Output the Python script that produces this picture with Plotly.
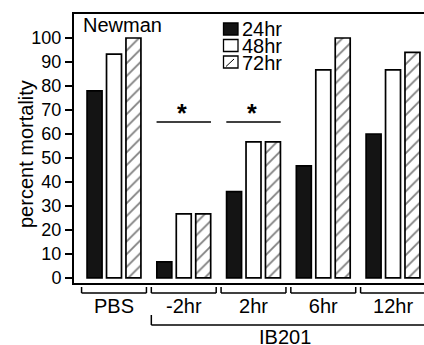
import plotly.graph_objects as go

# ---------------- data ----------------
CATEGORIES = ["PBS", "-2hr", "2hr", "6hr", "12hr"]
SERIES_NAMES = ["24hr", "48hr", "72hr"]
V_24HR = [78, 6.7, 36, 46.7, 60]
V_48HR = [93.3, 26.7, 56.7, 86.7, 86.7]
V_72HR = [100, 26.7, 56.7, 100, 94]
Y_TICKS = list(range(0, 101, 10))
Y_TITLE = "percent mortality"
SIG_GROUPS = ["-2hr", "2hr"]
SIG_Y = 65
GROUP_LABEL = "IB201"
GROUP_MEMBERS = ["-2hr", "2hr", "6hr", "12hr"]
PANEL_TITLE = "Newman"

# ---------------- layout constants ----------------
W, H = 424, 345
PL, PR, PT, PB = 74, 424, 14, 283
XMIN, XMAX = -0.5735, 4.444
YMIN, YMAX = -2.1, 110
FONT = "Liberation Sans, Arial, sans-serif"


def cat_to_paper(c):
    return (c - XMIN) / (XMAX - XMIN)


def px_x(px):
    return (px - PL) / (PR - PL)


def px_y(py):
    return (PB - py) / (PB - PT)


fig = go.Figure()
fig.add_bar(x=CATEGORIES, y=V_24HR, name=SERIES_NAMES[0],
            marker=dict(color="#141414", line=dict(color="black", width=1.7)),
            showlegend=False)
fig.add_bar(x=CATEGORIES, y=V_48HR, name=SERIES_NAMES[1],
            marker=dict(color="white", line=dict(color="black", width=1.7)),
            showlegend=False)
fig.add_bar(x=CATEGORIES, y=V_72HR, name=SERIES_NAMES[2],
            marker=dict(color="white", line=dict(color="black", width=1.7),
                        pattern=dict(shape="/", fgcolor="black", bgcolor="white",
                                     size=9, solidity=0.2)),
            showlegend=False)

shapes = []
annotations = []

# significance lines and stars
for g in SIG_GROUPS:
    i = CATEGORIES.index(g)
    shapes.append(dict(type="line", xref="x", yref="y", x0=i - 0.39, x1=i + 0.39,
                       y0=SIG_Y, y1=SIG_Y, line=dict(color="black", width=1.5)))
    annotations.append(dict(xref="x", yref="y", x=i - 0.02, y=SIG_Y, text="<b>*</b>",
                            showarrow=False, yanchor="bottom", yshift=-7,
                            font=dict(size=25, color="black", family=FONT)))

# brackets under each category
yb_h = px_y(293)
yb_e = px_y(287)
for i, c in enumerate(CATEGORIES):
    x0 = cat_to_paper(i - 0.465)
    x1 = cat_to_paper(i + 0.465)
    for seg in [(x0, yb_e, x0, yb_h), (x0, yb_h, x1, yb_h), (x1, yb_h, x1, yb_e)]:
        shapes.append(dict(type="line", xref="paper", yref="paper",
                           x0=seg[0], y0=seg[1], x1=seg[2], y1=seg[3],
                           line=dict(color="black", width=1.5)))

# IB201 group bracket
gi0 = CATEGORIES.index(GROUP_MEMBERS[0])
gx0 = cat_to_paper(gi0 - 0.465)
gy = px_y(325)
gy_top = px_y(315)
shapes.append(dict(type="line", xref="paper", yref="paper", x0=gx0, x1=1.05,
                   y0=gy, y1=gy, line=dict(color="black", width=1.5)))
shapes.append(dict(type="line", xref="paper", yref="paper", x0=gx0, x1=gx0,
                   y0=gy, y1=gy_top, line=dict(color="black", width=1.5)))
annotations.append(dict(xref="paper", yref="paper", x=cat_to_paper(2.45), y=px_y(337),
                        text=GROUP_LABEL, showarrow=False, xanchor="center", yanchor="middle",
                        font=dict(size=20, color="black", family=FONT)))

# panel title
annotations.append(dict(xref="paper", yref="paper", x=px_x(80.5), y=px_y(25),
                        text=PANEL_TITLE, showarrow=False, xanchor="left", yanchor="middle",
                        font=dict(size=20, color="black", family=FONT)))

# y-axis title (placed to match reference spacing)
annotations.append(dict(xref="paper", yref="paper", x=px_x(26), y=px_y(154),
                        text=Y_TITLE, textangle=-90, showarrow=False,
                        xanchor="center", yanchor="middle",
                        font=dict(size=20, color="black", family=FONT)))

# manual legend
row_centers = [29, 45.5, 62]
fills = ["#141414", "white", "white"]
for k, (name, yc) in enumerate(zip(SERIES_NAMES, row_centers)):
    bx0, bx1 = px_x(223.5), px_x(238)
    by0, by1 = px_y(yc + 6), px_y(yc - 6)
    shapes.append(dict(type="rect", xref="paper", yref="paper", x0=bx0, x1=bx1,
                       y0=by0, y1=by1, fillcolor=fills[k],
                       line=dict(color="black", width=1.3)))
    if k == 2:
        shapes.append(dict(type="line", xref="paper", yref="paper",
                           x0=px_x(226), y0=px_y(yc + 4.5), x1=px_x(234), y1=px_y(yc - 3),
                           line=dict(color="black", width=1)))
    annotations.append(dict(xref="paper", yref="paper", x=px_x(239.5), y=px_y(yc),
                            text=name, showarrow=False, xanchor="left", yanchor="middle",
                            height=15, valign="middle",
                            font=dict(size=20, color="black", family=FONT)))

fig.update_layout(
    width=W, height=H,
    margin=dict(l=PL, r=W - PR, t=PT, b=H - PB, pad=0),
    paper_bgcolor="white", plot_bgcolor="white",
    barmode="group", bargap=0.164, bargroupgap=0.23,
    font=dict(family=FONT, color="black"),
    shapes=shapes, annotations=annotations,
    showlegend=False,
)
fig.update_xaxes(
    range=[XMIN, XMAX], showline=True, linecolor="black", linewidth=2, mirror=True,
    ticks="", showgrid=False, zeroline=False,
    tickfont=dict(size=20, color="black", family=FONT), ticklabelstandoff=4,
)
fig.update_yaxes(
    range=[YMIN, YMAX], showline=True, linecolor="black", linewidth=2, mirror=False,
    ticks="outside", ticklen=7, tickwidth=1.5, tickcolor="black",
    tickvals=Y_TICKS, showgrid=False, zeroline=False,
    tickfont=dict(size=18, color="black", family=FONT),
    automargin=False,
)

fig.write_html(
    "out.html",
    config={"displayModeBar": False},
    post_script="document.body.style.margin='0';document.body.style.padding='0';",
)
